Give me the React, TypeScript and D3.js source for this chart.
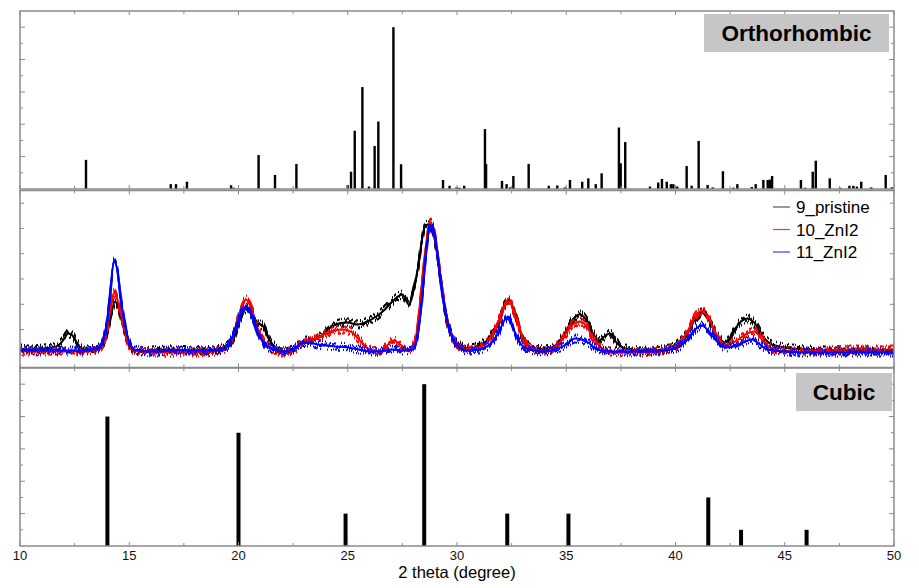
import React from "react";
import * as d3 from "d3";

// ---------- DATA ----------
const xTicks = [10, 15, 20, 25, 30, 35, 40, 45, 50];

// Orthorhombic reference pattern (2θ, relative intensity 0-10)
const orthoPos = [13.02, 16.9, 17.14, 17.64, 19.66, 19.78, 20.92, 21.67, 22.65, 25.0, 25.15, 25.32, 25.67, 25.97, 26.23, 26.4, 27.09, 27.44, 29.36, 29.66, 29.98, 30.1, 30.33, 31.28, 31.33, 32.06, 32.27, 32.43, 32.58, 33.28, 34.2, 34.59, 34.94, 35.17, 35.73, 36.01, 36.35, 36.62, 37.41, 37.49, 37.7, 38.83, 39.21, 39.38, 39.6, 39.79, 39.9, 40.08, 40.51, 40.74, 41.06, 41.47, 41.7, 42.17, 42.65, 42.83, 43.49, 43.67, 44.02, 44.22, 44.32, 44.42, 45.74, 45.93, 46.28, 46.42, 47.06, 47.53, 47.96, 48.14, 48.3, 48.5, 48.96, 49.62, 49.9];
const orthoInt = [1.8, 0.3, 0.3, 0.45, 0.23, 0.08, 2.1, 0.87, 1.55, 0.25, 1.07, 3.6, 6.3, 0.15, 2.66, 4.17, 10, 1.53, 0.56, 0.2, 0.1, 0.08, 0.2, 3.7, 1.55, 0.5, 0.3, 0.1, 0.8, 1.55, 0.2, 0.22, 0.1, 0.56, 0.45, 0.66, 0.3, 0.97, 3.8, 1.59, 2.9, 0.15, 0.4, 0.62, 0.45, 0.3, 0.3, 0.15, 1.42, 0.2, 2.97, 0.25, 0.1, 1.1, 0.08, 0.3, 0.12, 0.3, 0.56, 0.56, 0.58, 0.8, 0.56, 0.08, 1.07, 1.75, 0.66, 0.08, 0.2, 0.2, 0.15, 0.45, 0.1, 0.87, 0.1];

// Cubic reference pattern
const cubicPos = [14.0, 20.0, 24.9, 28.5, 32.3, 35.1, 41.5, 43.0, 46.0];
const cubicInt = [8, 7, 2, 10, 2, 2, 3, 1, 1];

// Measured patterns (2θ, intensity a.u.)
const pristine: [number, number][] = [
  [10.0, 19], [10.5, 18], [11.0, 19], [11.5, 20], [11.8, 23], [12.0, 28], [12.2, 34], [12.4, 32], [12.6, 25], [12.8, 19],
  [13.0, 18], [13.5, 19], [13.8, 24], [14.0, 35], [14.2, 56], [14.35, 66], [14.5, 60], [14.7, 43], [14.9, 28], [15.2, 18],
  [15.6, 16], [16.0, 17], [17.0, 18], [18.0, 17], [19.0, 18], [19.5, 22], [19.8, 31], [20.1, 50], [20.35, 59], [20.6, 53],
  [20.9, 44], [21.1, 42], [21.4, 28], [21.7, 20], [22.0, 16], [22.5, 18], [22.8, 23], [23.1, 27], [23.4, 28], [23.8, 32],
  [24.2, 40], [24.6, 44], [25.0, 45], [25.4, 43], [25.7, 44], [26.0, 47], [26.3, 51], [26.7, 58], [27.0, 65], [27.3, 71],
  [27.5, 73], [27.8, 63], [28.0, 78], [28.2, 98], [28.4, 128], [28.55, 142], [28.7, 143], [28.9, 136], [29.1, 113], [29.3, 80],
  [29.5, 50], [29.8, 30], [30.2, 21], [30.6, 19], [31.0, 22], [31.5, 30], [31.9, 46], [32.2, 63], [32.4, 67], [32.7, 50],
  [33.0, 30], [33.4, 20], [34.0, 18], [34.5, 22], [34.9, 33], [35.3, 48], [35.6, 53], [35.9, 48], [36.2, 35], [36.5, 27],
  [36.8, 32], [37.0, 34], [37.3, 25], [37.7, 19], [38.5, 17], [39.5, 18], [40.0, 22], [40.5, 33], [40.9, 48], [41.2, 55],
  [41.5, 48], [41.9, 32], [42.3, 25], [42.7, 38], [43.0, 46], [43.3, 49], [43.6, 45], [44.0, 31], [44.4, 23], [45.0, 20],
  [46.0, 18], [47.0, 17], [48.0, 17], [49.0, 17], [50.0, 17],
];
const znI2_10: [number, number][] = [
  [10.0, 16], [11.0, 16], [12.0, 16], [13.0, 16], [13.6, 19], [13.9, 30], [14.1, 53], [14.3, 75], [14.45, 68], [14.7, 46],
  [14.9, 28], [15.2, 17], [16.0, 15], [17.0, 15], [18.0, 15], [19.0, 16], [19.5, 21], [19.8, 35], [20.1, 58], [20.35, 68],
  [20.6, 58], [20.9, 38], [21.2, 25], [21.6, 18], [22.0, 15], [22.5, 17], [22.9, 25], [23.2, 27], [23.6, 29], [24.0, 34],
  [24.4, 37], [24.8, 38], [25.2, 35], [25.6, 26], [26.0, 18], [26.5, 16], [26.8, 22], [27.1, 27], [27.4, 23], [27.8, 17],
  [28.1, 28], [28.3, 63], [28.5, 106], [28.7, 140], [28.8, 145], [28.95, 136], [29.15, 106], [29.35, 73], [29.6, 43], [29.9, 26],
  [30.3, 18], [31.0, 20], [31.5, 28], [31.9, 46], [32.2, 63], [32.4, 66], [32.7, 50], [33.0, 30], [33.4, 19], [34.0, 16],
  [34.5, 20], [34.9, 31], [35.3, 43], [35.6, 46], [35.9, 42], [36.2, 31], [36.6, 20], [37.0, 16], [38.0, 15], [39.0, 16],
  [40.0, 21], [40.5, 34], [40.9, 51], [41.2, 57], [41.5, 50], [41.9, 32], [42.3, 22], [42.8, 27], [43.2, 33], [43.6, 36],
  [44.0, 27], [44.4, 19], [45.0, 16], [46.0, 16], [47.0, 17], [48.0, 18], [49.0, 18], [50.0, 18],
];
const znI2_11: [number, number][] = [
  [10.0, 17], [11.0, 17], [12.0, 17], [13.0, 17], [13.6, 20], [13.9, 35], [14.1, 68], [14.3, 106], [14.45, 98], [14.65, 63],
  [14.9, 33], [15.2, 18], [16.0, 16], [17.0, 17], [18.0, 17], [19.0, 17], [19.5, 21], [19.8, 35], [20.1, 53], [20.35, 61],
  [20.6, 53], [20.9, 35], [21.2, 23], [21.6, 18], [22.0, 16], [22.5, 18], [22.9, 24], [23.2, 25], [23.6, 23], [24.0, 22],
  [24.5, 21], [25.0, 20], [25.5, 18], [26.0, 16], [26.5, 16], [27.0, 18], [27.5, 17], [28.0, 18], [28.2, 33], [28.4, 68],
  [28.6, 118], [28.75, 140], [28.85, 142], [29.0, 128], [29.2, 96], [29.4, 63], [29.7, 35], [30.0, 22], [30.5, 17], [31.0, 18],
  [31.5, 23], [31.9, 35], [32.2, 48], [32.35, 51], [32.6, 38], [32.9, 24], [33.3, 18], [34.0, 16], [34.5, 18], [35.0, 23],
  [35.4, 29], [35.7, 28], [36.0, 25], [36.4, 18], [37.0, 16], [38.0, 16], [39.0, 16], [40.0, 19], [40.5, 27], [40.9, 38],
  [41.2, 42], [41.5, 37], [41.9, 26], [42.3, 20], [42.8, 22], [43.2, 26], [43.5, 28], [43.8, 24], [44.2, 18], [45.0, 16],
  [46.0, 15], [47.0, 15], [48.0, 15], [49.0, 15], [50.0, 15],
];

const seriesNames = ["9_pristine", "10_ZnI2", "11_ZnI2"];
const seriesColors = ["#000000", "#ff0000", "#0000ff"];
const legendColors = ["#555555", "#e84040", "#4040e0"];

// ---------- LAYOUT ----------
const W = 919;
const H = 588;
const left = 20;
const right = 894;
const panels = {
  top: { y0: 11, y1: 189 },
  mid: { y0: 190.5, y1: 367.5 },
  bot: { y0: 368, y1: 546 },
};
const frame = "#8a8a8a";

const x = d3.scaleLinear().domain([10, 50]).range([left, right]);
const yTop = d3.scaleLinear().domain([0, 11]).range([panels.top.y1, panels.top.y0]);
const yMid = d3.scaleLinear().domain([0, 177]).range([panels.mid.y1, panels.mid.y0]);
const yBot = d3.scaleLinear().domain([0, 11]).range([panels.bot.y1, panels.bot.y0]);

function PanelFrame({ y0, y1, yTicks }: { y0: number; y1: number; yTicks: { y: number; len: number }[] }) {
  const xt = d3.range(10, 50.01, 2.5);
  return (
    <g>
      <rect x={left} y={y0} width={right - left} height={y1 - y0} fill="none" stroke={frame} strokeWidth={1.5} />
      {xt.map((t, i) => {
        const len = t % 5 === 0 ? 4 : 3;
        return (
          <g key={i}>
            <line x1={x(t)} x2={x(t)} y1={y0} y2={y0 + len} stroke={frame} strokeWidth={1} />
            <line x1={x(t)} x2={x(t)} y1={y1} y2={y1 - len} stroke={frame} strokeWidth={1} />
          </g>
        );
      })}
      {yTicks.map((t, i) => (
        <g key={"y" + i}>
          <line x1={left} x2={left + t.len} y1={t.y} y2={t.y} stroke={frame} strokeWidth={1} />
          <line x1={right} x2={right - t.len} y1={t.y} y2={t.y} stroke={frame} strokeWidth={1} />
        </g>
      ))}
    </g>
  );
}

export default function App() {
  const topTicks = d3.range(1, 11).map((v) => ({ y: yTop(v), len: v % 2 === 0 ? 5 : 3 }));
  const botTicks = d3.range(1, 11).map((v) => ({ y: yBot(v), len: v % 2 === 0 ? 5 : 3 }));
  const midTicks = d3.range(12.6, 177, 25.3).map((v) => ({ y: yMid(v), len: 4 }));

  const line = d3
    .line<[number, number]>()
    .x((d) => x(d[0]))
    .y((d) => yMid(d[1]))
    .curve(d3.curveMonotoneX);

  const series = [pristine, znI2_10, znI2_11];
  const seeds = [3, 11, 29, 41, 53, 67];

  return (
    <svg width={W} height={H} style={{ position: "absolute", left: 0, top: 0, background: "#fff" }} fontFamily="Arial, 'Liberation Sans', sans-serif">
      <rect x={0} y={0} width={W} height={H} fill="#fff" />
      <defs>
        <clipPath id="midclip">
          <rect x={left} y={panels.mid.y0} width={right - left} height={panels.mid.y1 - panels.mid.y0} />
        </clipPath>
        {seeds.map((s, i) => (
          <filter key={"f" + i} id={"jit" + i} filterUnits="userSpaceOnUse" x={left} y={panels.mid.y0} width={right - left} height={panels.mid.y1 - panels.mid.y0} colorInterpolationFilters="sRGB">
            <feTurbulence type="fractalNoise" baseFrequency="0.8 0.002" numOctaves={1} seed={s} result="n" />
            <feColorMatrix in="n" type="matrix" values="0 0 0 0 0.5  0 3 0 0 -1  0 0 0 0 0  0 0 0 0 1" result="m" />
            <feDisplacementMap in="SourceGraphic" in2="m" scale={8} xChannelSelector="R" yChannelSelector="G" />
          </filter>
        ))}
      </defs>

      {/* Top: orthorhombic */}
      {orthoPos.map((p, i) => (
        <rect key={"o" + i} x={x(p) - 1.2} y={yTop(orthoInt[i])} width={2.4} height={yTop(0) - yTop(orthoInt[i])} fill="#000" />
      ))}
      <PanelFrame y0={panels.top.y0} y1={panels.top.y1} yTicks={topTicks} />
      <rect x={704} y={14} width={185} height={38} fill="#c6c6c6" />
      <text x={796.5} y={41} textAnchor="middle" fontSize={22.5} fontWeight="bold" fill="#000">Orthorhombic</text>

      {/* Middle: measured */}
      <g clipPath="url(#midclip)">
        {series.map((s, i) => (
          <g key={"s" + i}>
            <path d={line(s) || ""} fill="none" stroke={seriesColors[i]} strokeWidth={2} strokeLinejoin="round" />
            <path d={line(s) || ""} fill="none" stroke={seriesColors[i]} strokeWidth={2} strokeLinejoin="round" filter={`url(#jit${2 * i})`} />
            <path d={line(s) || ""} fill="none" stroke={seriesColors[i]} strokeWidth={2} strokeLinejoin="round" filter={`url(#jit${2 * i + 1})`} />
          </g>
        ))}
      </g>
      <PanelFrame y0={panels.mid.y0} y1={panels.mid.y1} yTicks={midTicks} />
      {seriesNames.map((n, i) => (
        <g key={"l" + i}>
          <line x1={773} x2={790} y1={207 + i * 22.5} y2={207 + i * 22.5} stroke={legendColors[i]} strokeWidth={1.2} />
          <text x={796} y={213 + i * 22.5} fontSize={17} fill="#000">{n}</text>
        </g>
      ))}

      {/* Bottom: cubic */}
      {cubicPos.map((p, i) => (
        <rect key={"c" + i} x={x(p) - 2} y={yBot(cubicInt[i])} width={4} height={yBot(0) - yBot(cubicInt[i])} fill="#000" />
      ))}
      <PanelFrame y0={panels.bot.y0} y1={panels.bot.y1} yTicks={botTicks} />
      <rect x={796} y={373} width={96} height={38} fill="#c6c6c6" />
      <text x={844} y={400} textAnchor="middle" fontSize={22.5} fontWeight="bold" fill="#000">Cubic</text>

      {/* X axis labels */}
      {xTicks.map((t) => (
        <text key={"xt" + t} x={x(t)} y={560} textAnchor="middle" fontSize={13} fill="#111">{t}</text>
      ))}
      <text x={457} y={578} textAnchor="middle" fontSize={16.5} fill="#000">2 theta (degree)</text>
    </svg>
  );
}
